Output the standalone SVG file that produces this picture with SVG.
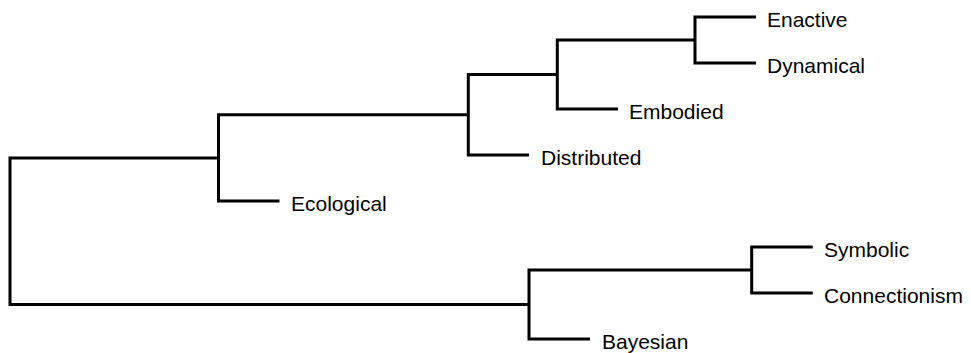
<svg xmlns="http://www.w3.org/2000/svg" width="971" height="353" viewBox="0 0 971 353">
<style>
.e{fill:none;stroke:#000;stroke-width:3;stroke-linejoin:miter;stroke-linecap:butt}
.t{font-family:"Liberation Sans",Arial,sans-serif;font-size:21px;fill:#000}
</style>
<rect width="971" height="353" fill="#fff"/>
<g id="connectors">
<path class="e" d="M218.5,158 H10 V304.5 H529"/>
<path class="e" d="M468.3,114.75 H218.5 V201 H279.5"/>
<path class="e" d="M557.3,74.5 H468.3 V155 H529"/>
<path class="e" d="M695,40 H557.3 V109 H618"/>
<path class="e" d="M756,17 H695 V63 H756"/>
<path class="e" d="M751.7,270 H529 V339 H590"/>
<path class="e" d="M812.7,247 H751.7 V293 H812.7"/>
</g>
<g id="enactive"><text class="t" x="767" y="26.5">Enactive</text></g>
<g id="dynamical"><text class="t" x="767" y="72.5">Dynamical</text></g>
<g id="embodied"><text class="t" x="629" y="118.5">Embodied</text></g>
<g id="distributed"><text class="t" x="541" y="164.5">Distributed</text></g>
<g id="ecological"><text class="t" x="291" y="210.5">Ecological</text></g>
<g id="symbolic"><text class="t" x="824" y="256.5">Symbolic</text></g>
<g id="connectionism"><text class="t" x="824" y="302.5">Connectionism</text></g>
<g id="bayesian"><text class="t" x="602" y="348.5">Bayesian</text></g>
</svg>
